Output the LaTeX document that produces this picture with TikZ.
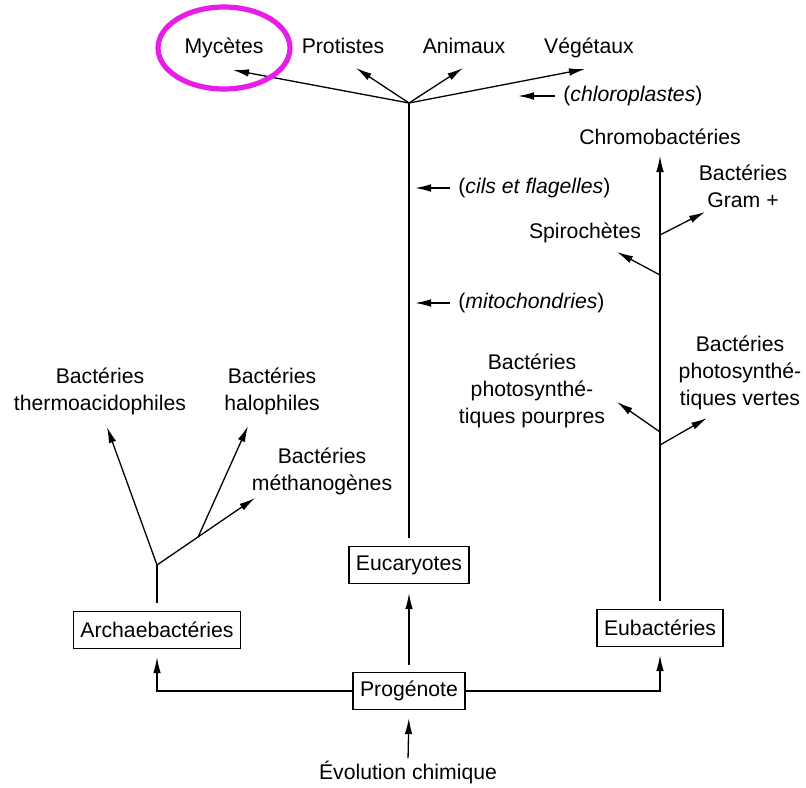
\documentclass[tikz,border=0pt]{standalone}
\usepackage{fontspec}
\setmainfont{Liberation Sans}
\usetikzlibrary{arrows.meta,positioning,calc}
\definecolor{highlight}{RGB}{232,30,232}
\tikzset{>={Latex[length=8pt,width=3.8pt]}}
\tikzset{
  taxon/.style={draw, line width=0.65pt, inner xsep=3.5pt, minimum height=18.5pt},
  lbl/.style={align=center, inner sep=0pt},
  branch/.style={->, line width=0.65pt},
  stem/.style={line width=0.65pt},
}

\begin{document}
\begin{tikzpicture}[x=0.5pt, y=-0.5pt, font=\fontsize{10.6}{13.5}\selectfont]
  \useasboundingbox (0,0) rectangle (806,787);

  % boxes
  \node [taxon] (prog) at (409,691) {Progénote};
  \node [taxon] (euc) at (409,565) {Eucaryotes};
  \node [taxon] (arch) at (157,630) {Archaebactéries};
  \node [taxon] (eub) at (660,628) {Eubactéries};
  \node [lbl] (evo) at (408,772) {Évolution chimique};

  \draw [branch, shorten <=1pt, shorten >=4pt] (evo.north) -- (prog.south);
  \draw [branch, shorten <=3.5pt, shorten >=4.5pt] (prog.north) -- (euc.south);
  \draw [branch, shorten >=4pt] (prog.west) -| (arch.south);
  \draw [branch, shorten >=4pt] (prog.east) -| (eub.south);

  % eucaryotes
  \node [lbl, anchor=base] (myc) at (224,53) {Mycètes};
  \node [lbl, anchor=base] (pro) at (343,53) {Protistes};
  \node [lbl, anchor=base] (ani) at (464,53) {Animaux};
  \node [lbl, anchor=base] (veg) at (589,53) {Végétaux};
  \coordinate (top) at (409,103);
  \coordinate (tmyc) at (233,70);
  \coordinate (tpro) at (356,68);
  \coordinate (tani) at (463,68);
  \coordinate (tveg) at (585,69);
  \draw [stem, shorten <=4pt] (euc.north) -- (top);
  \foreach \t in {tmyc,tpro,tani,tveg}
    \draw [branch] (top) -- (\t);
  \draw [highlight, line width=2.6pt] (224,48) ellipse [x radius=66, y radius=41];

  \node [lbl, anchor=west] (chl) at (563,96) {(\textit{chloroplastes})};
  \node [lbl, anchor=west] (cil) at (458,188) {(\textit{cils et flagelles})};
  \node [lbl, anchor=west] (mit) at (458,303) {(\textit{mitochondries})};
  \coordinate (pchl) at (518,96);
  \coordinate (pcil) at (415,188);
  \coordinate (pmit) at (415,303);
  \draw [branch, shorten <=4pt] (chl.west) -- (pchl);
  \draw [branch, shorten <=4pt] (cil.west) -- (pcil);
  \draw [branch, shorten <=4pt] (mit.west) -- (pmit);

  % archaebacteries
  \node [lbl] (the) at (100,391) {Bactéries\\thermoacidophiles};
  \node [lbl] (hal) at (272,391) {Bactéries\\halophiles};
  \node [lbl] (met) at (322,471) {Bactéries\\méthanogènes};
  \coordinate (ab) at (157,565);
  \coordinate (tthe) at (107,427);
  \coordinate (thal) at (248,426);
  \coordinate (tmet) at (255,498);
  \coordinate (ab2) at ($(ab)!0.42!(tmet)$);
  \draw [stem, shorten <=4pt] (arch.north) -- (ab);
  \draw [branch] (ab) -- (tthe);
  \draw [branch] (ab) -- (tmet);
  \draw [branch] (ab2) -- (thal);

  % eubacteries
  \node [lbl] (chr) at (660,137) {Chromobactéries};
  \node [lbl] (gra) at (743,186) {Bactéries\\Gram +};
  \node [lbl] (spi) at (585,233) {Spirochètes};
  \node [lbl] (pou) at (532,391) {Bactéries\\photosynthé-\\tiques pourpres};
  \node [lbl] (ver) at (740,373) {Bactéries\\photosynthé-\\tiques vertes};
  \coordinate (tchr) at (660,156);
  \coordinate (e1) at (660,235);
  \coordinate (e2) at (660,275);
  \coordinate (e3) at (660,432);
  \coordinate (e4) at (660,445);
  \draw [branch, shorten <=4pt] (eub.north) -- (tchr);
  \draw [branch] (e1) -- (705,212) coordinate (tgra);
  \draw [branch] (e2) -- (617,252) coordinate (tspi);
  \draw [branch] (e3) -- (617,402) coordinate (tpou);
  \draw [branch] (e4) -- (707,418) coordinate (tver);
\end{tikzpicture}
\end{document}
